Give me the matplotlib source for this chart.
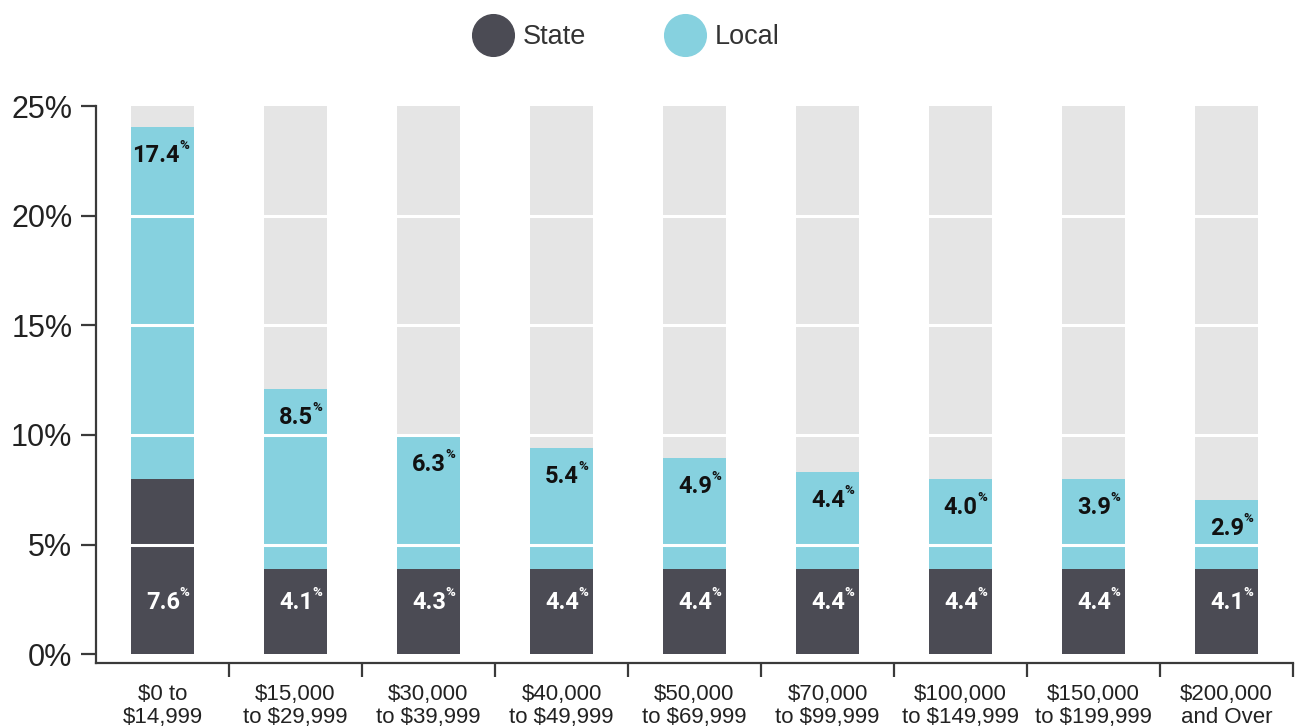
"""Stacked state/local tax share by income bracket."""
import numpy as np
import matplotlib.pyplot as plt
from matplotlib.lines import Line2D

plt.rcParams["font.family"] = ["Liberation Sans", "DejaVu Sans"]

categories = ["$0 to\n$14,999", "$15,000\nto $29,999", "$30,000\nto $39,999",
              "$40,000\nto $49,999", "$50,000\nto $69,999", "$70,000\nto $99,999",
              "$100,000\nto $149,999", "$150,000\nto $199,999", "$200,000\nand Over"]
# printed labels
state_labels = [7.6, 4.1, 4.3, 4.4, 4.4, 4.4, 4.4, 4.4, 4.1]
local_labels = [17.4, 8.5, 6.3, 5.4, 4.9, 4.4, 4.0, 3.9, 2.9]
# heights as drawn in the picture
state_drawn = [8.0, 3.9, 3.9, 3.9, 3.9, 3.9, 3.9, 3.9, 3.9]
total_drawn = [24.04, 12.1, 9.97, 9.42, 8.96, 8.32, 8.0, 8.0, 7.04]
y_ticks = [0, 5, 10, 15, 20, 25]

STATE_C = "#4b4b54"
LOCAL_C = "#86d1df"
BG_C = "#e5e5e5"
AX_C = "#3a3a3a"

fig = plt.figure(figsize=(12.97, 7.28), dpi=100)
ax = fig.add_axes([96 / 1297, 65 / 728, 1197 / 1297, 557 / 728])

x = np.arange(len(categories))
w = 0.474
local_drawn = [t - s for t, s in zip(total_drawn, state_drawn)]

ax.bar(x, [25] * len(x), w, color=BG_C, zorder=1, clip_on=False)
ax.bar(x, state_drawn, w, color=STATE_C, zorder=2)
ax.bar(x, local_drawn, w, bottom=state_drawn, color=LOCAL_C, zorder=2)
ax.hlines([5, 10, 15, 20], -0.45, 8.45, colors="white", lw=2.2, zorder=3)

xo = 0.13
for i in x:
    ax.text(i + xo, 2.35, f"{state_labels[i]:.1f}", ha="right", va="center",
            color="white", fontsize=17, fontweight="bold", family="Roboto", zorder=4)
    ax.text(i + xo, 2.8, "%", ha="left", va="center", color="white",
            fontsize=9.5, fontweight="bold", family="Roboto", zorder=4)
    yl = total_drawn[i] - 1.3
    ax.text(i + xo, yl, f"{local_labels[i]:.1f}", ha="right", va="center",
            color="#111111", fontsize=17, fontweight="bold", family="Roboto", zorder=4)
    ax.text(i + xo, yl + 0.45, "%", ha="left", va="center", color="#111111",
            fontsize=9.5, fontweight="bold", family="Roboto", zorder=4)

ax.set_xlim(-0.5, 8.5)
ax.set_ylim(-0.4, 25.0)
ax.set_yticks(y_ticks, [f"{v}%" for v in y_ticks])
ax.set_xticks(x, categories)
ax.set_xticks(np.arange(0.5, 9.0, 1.0), minor=True)
ax.tick_params(axis="x", which="major", length=0, pad=15, labelsize=16,
               labelcolor="#222222")
ax.tick_params(axis="x", which="minor", length=10, width=1.6, color=AX_C,
               direction="out")
ax.tick_params(axis="y", length=11, width=1.6, color=AX_C, pad=6,
               labelsize=22, labelcolor="#222222")
for lab in ax.get_xticklabels():
    lab.set_linespacing(1.15)

for s in ["top", "right"]:
    ax.spines[s].set_visible(False)
for s in ["left", "bottom"]:
    ax.spines[s].set_color(AX_C)
    ax.spines[s].set_linewidth(1.6)

handles = [Line2D([], [], marker="o", ls="", markersize=30, color=STATE_C),
           Line2D([], [], marker="o", ls="", markersize=30, color=LOCAL_C)]
fig.legend(handles, ["State", "Local"], loc="center", ncol=2, frameon=False,
           bbox_to_anchor=(623 / 1297, 1 - 37 / 728), fontsize=19.5,
           handletextpad=0.1, columnspacing=2.65, labelcolor="#333333")

fig.savefig("out.png", dpi=100)
